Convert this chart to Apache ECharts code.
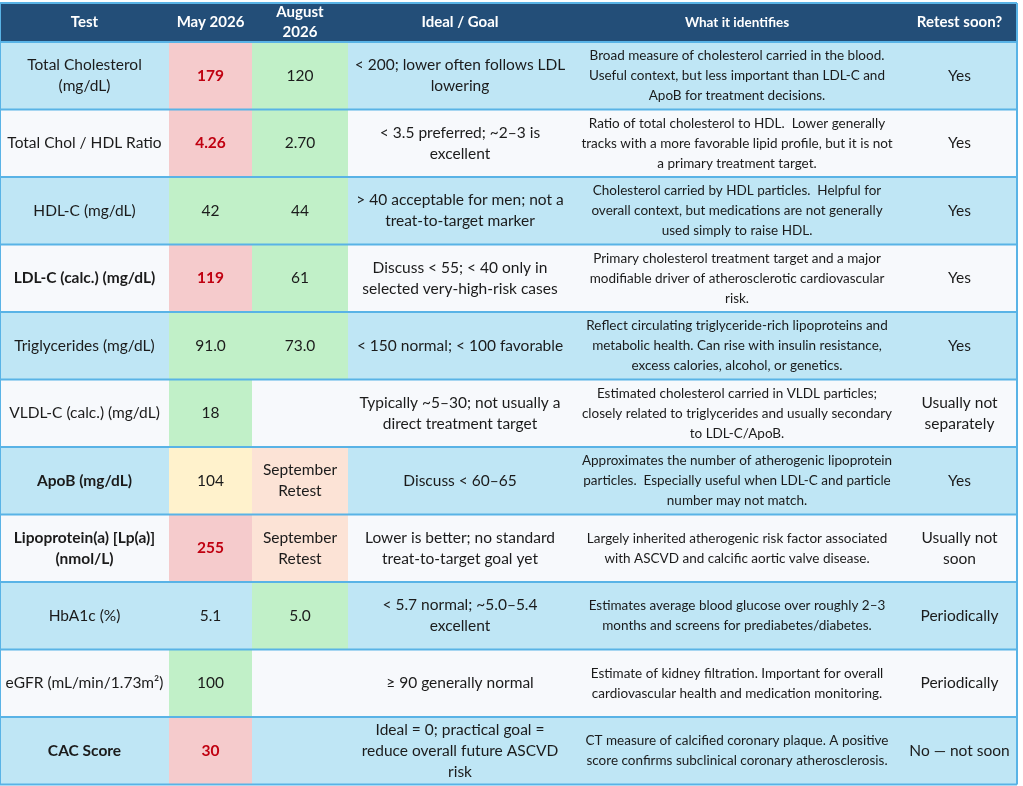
<!DOCTYPE html>
<html>
<head>
<meta charset="utf-8">
<title>Lipid panel</title>
<script src="https://cdn.jsdelivr.net/npm/echarts@6/dist/echarts.min.js"></script>
<style>
  html, body { margin: 0; padding: 0; background: #ffffff; }
  #chart { width: 1023px; height: 786px; }
</style>
</head>
<body>
<div id="chart"></div>
<script>
// 表头
var headers = ['Test', 'May 2026', 'August\n2026', 'Ideal / Goal', 'What it identifies', 'Retest soon?'];

// 检测项目
var tests = [
    'Total Cholesterol\n(mg/dL)',
    'Total Chol / HDL Ratio',
    'HDL-C (mg/dL)',
    'LDL-C (calc.) (mg/dL)',
    'Triglycerides (mg/dL)',
    'VLDL-C (calc.) (mg/dL)',
    'ApoB (mg/dL)',
    'Lipoprotein(a) [Lp(a)]\n(nmol/L)',
    'HbA1c (%)',
    'eGFR (mL/min/1.73m²)',
    'CAC Score'
];
var keyTests = [false, false, false, true, false, false, true, true, false, false, true];

// 两次结果
var may2026 = ['179', '4.26', '42', '119', '91.0', '18', '104', '255', '5.1', '100', '30'];
var mayFlag = ['high', 'high', 'good', 'high', 'good', 'good', 'watch', 'high', 'none', 'good', 'high'];
var aug2026 = ['120', '2.70', '44', '61', '73.0', '', 'September\nRetest', 'September\nRetest', '5.0', '', ''];
var augFlag = ['good', 'good', 'good', 'good', 'good', 'none', 'pending', 'pending', 'good', 'none', 'none'];

var goals = [
    '< 200; lower often follows LDL\nlowering',
    '< 3.5 preferred; ~2–3 is\nexcellent',
    '> 40 acceptable for men; not a\ntreat-to-target marker',
    'Discuss < 55; < 40 only in\nselected very-high-risk cases',
    '< 150 normal; < 100 favorable',
    'Typically ~5–30; not usually a\ndirect treatment target',
    'Discuss < 60–65',
    'Lower is better; no standard\ntreat-to-target goal yet',
    '< 5.7 normal; ~5.0–5.4\nexcellent',
    '≥ 90 generally normal',
    'Ideal = 0; practical goal =\nreduce overall future ASCVD\nrisk'
];

var identifies = [
    'Broad measure of cholesterol carried in the blood.\nUseful context, but less important than LDL-C and\nApoB for treatment decisions.',
    'Ratio of total cholesterol to HDL.  Lower generally\ntracks with a more favorable lipid profile, but it is not\na primary treatment target.',
    'Cholesterol carried by HDL particles.  Helpful for\noverall context, but medications are not generally\nused simply to raise HDL.',
    'Primary cholesterol treatment target and a major\nmodifiable driver of atherosclerotic cardiovascular\nrisk.',
    'Reflect circulating triglyceride-rich lipoproteins and\nmetabolic health. Can rise with insulin resistance,\nexcess calories, alcohol, or genetics.',
    'Estimated cholesterol carried in VLDL particles;\nclosely related to triglycerides and usually secondary\nto LDL-C/ApoB.',
    'Approximates the number of atherogenic lipoprotein\nparticles.  Especially useful when LDL-C and particle\nnumber may not match.',
    'Largely inherited atherogenic risk factor associated\nwith ASCVD and calcific aortic valve disease.',
    'Estimates average blood glucose over roughly 2–3\nmonths and screens for prediabetes/diabetes.',
    'Estimate of kidney filtration. Important for overall\ncardiovascular health and medication monitoring.',
    'CT measure of calcified coronary plaque. A positive\nscore confirms subclinical coronary atherosclerosis.'
];

var retest = ['Yes', 'Yes', 'Yes', 'Yes', 'Yes', 'Usually not\nseparately', 'Yes', 'Usually not\nsoon', 'Periodically', 'Periodically', 'No — not soon'];

// 版式（列宽、行高、颜色）
var colWidths = [169, 83, 96, 224, 330, 115];
var headerHeight = 39;
var rowHeight = 67.5;
var FONT = 'Lato, "Open Sans", sans-serif';
var flagColor = {
    high: '#f5cbcc',
    good: '#c1f0c8',
    watch: '#fff2cc',
    pending: '#fce3d6'
};
var rowColors = ['#bfe6f5', '#f7f9fc'];
var lineColor = '#59b3e6';
// 各列字号
var headSizes = [15, 15, 15, 15, 13.5, 15];
var bodySizes = [15.5, 15.5, 15.5, 15.5, 13.5, 15.5];

var colEdges = [0];
colWidths.forEach(function(w, i) { colEdges.push(colEdges[i] + w); });
var tableWidth = colEdges[colEdges.length - 1];
var rowEdges = [0, headerHeight];
for (var i = 0; i < tests.length; i++) {
    rowEdges.push(headerHeight + (i + 1) * rowHeight);
}
var tableHeight = rowEdges[rowEdges.length - 1];

var columns = [tests, may2026, aug2026, goals, identifies, retest];

function cellStyle(col, row) {
    if (row === 0) {
        return {
            bg: '#234e78', text: headers[col], color: '#ffffff', weight: 'bold',
            size: headSizes[col], lh: 20
        };
    }
    var r = row - 1;
    var s = { bg: rowColors[r % 2], text: columns[col][r], color: '#1b1b1b', weight: 'normal', size: bodySizes[col], lh: 21 };
    if (col === 0) {
        if (keyTests[r]) s.weight = 'bold';
    } else if (col === 1 || col === 2) {
        var flag = col === 1 ? mayFlag[r] : augFlag[r];
        if (flagColor[flag]) s.bg = flagColor[flag];
        if (flag === 'high') { s.color = '#c00010'; s.weight = 'bold'; }
    } else if (col === 4) {
        s.lh = 20;
    }
    return s;
}

var cellData = [];
for (var row = 0; row <= tests.length; row++) {
    for (var col = 0; col < headers.length; col++) {
        cellData.push([col, row]);
    }
}

var lineData = [];
rowEdges.forEach(function(y, i) { lineData.push([0, i]); });
lineData.push([1, 0]);
lineData.push([1, colEdges.length - 1]);

var myChart = echarts.init(document.getElementById('chart'));
var option = {
    animation: false,
    grid: { left: 0, top: 3, width: tableWidth, height: tableHeight },
    xAxis: { type: 'value', min: 0, max: tableWidth, show: false },
    yAxis: { type: 'value', min: 0, max: tableHeight, inverse: true, show: false },
    series: [{
        type: 'custom',
        silent: true,
        data: cellData,
        renderItem: function(params, api) {
            var col = api.value(0), row = api.value(1);
            var p0 = api.coord([colEdges[col], rowEdges[row]]);
            var p1 = api.coord([colEdges[col + 1], rowEdges[row + 1]]);
            var s = cellStyle(col, row);
            return {
                type: 'rect',
                shape: { x: p0[0], y: p0[1], width: p1[0] - p0[0], height: p1[1] - p0[1] },
                style: { fill: s.bg },
                textContent: {
                    style: {
                        text: s.text,
                        fill: s.color,
                        fontFamily: FONT,
                        fontSize: s.size,
                        fontWeight: s.weight,
                        lineHeight: s.lh,
                        align: 'center'
                    }
                },
                textConfig: { position: 'inside' }
            };
        }
    }, {
        type: 'custom',
        silent: true,
        data: lineData,
        renderItem: function(params, api) {
            var kind = api.value(0), idx = api.value(1);
            var a, b;
            if (kind === 0) {
                a = api.coord([0, rowEdges[idx]]);
                b = api.coord([tableWidth, rowEdges[idx]]);
            } else {
                a = api.coord([colEdges[idx], 0]);
                b = api.coord([colEdges[idx], tableHeight]);
            }
            return {
                type: 'line',
                shape: { x1: a[0], y1: a[1], x2: b[0], y2: b[1] },
                style: { stroke: lineColor, lineWidth: 2 }
            };
        }
    }]
};
myChart.setOption(option);
</script>
</body>
</html>
